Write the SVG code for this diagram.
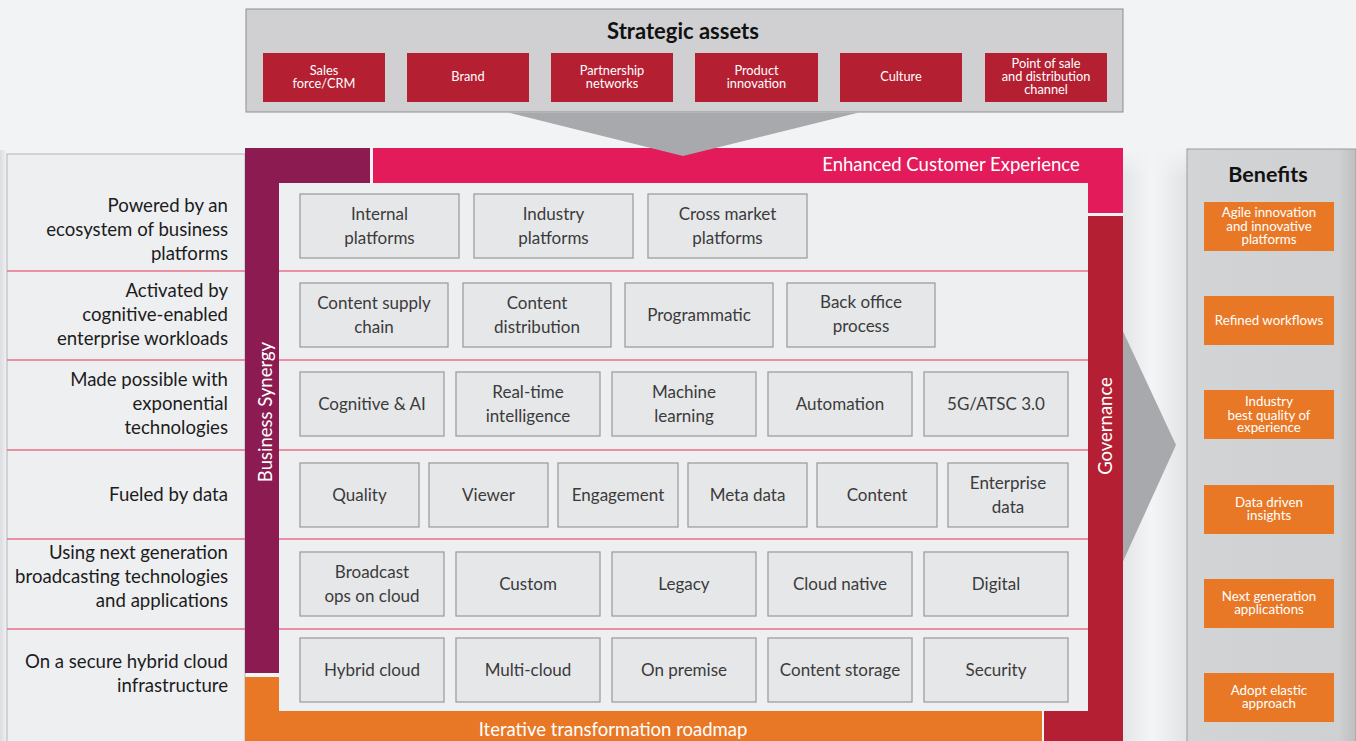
<svg xmlns="http://www.w3.org/2000/svg" width="1356" height="741" viewBox="0 0 1356 741">
  <defs>
    <style>
      text { font-family: Lato, "Open Sans", "Liberation Sans", sans-serif; }
      .bx { fill: #e6e7e9; stroke: #9d9ea0; stroke-width: 1.3; }
      .bt { font-size: 17px; fill: #3b3b3b; text-anchor: middle; }
      .lbl { font-size: 18.6px; fill: #1c1c1c; text-anchor: end; }
      .asset { fill: #b51f32; }
      .at { font-size: 12.8px; fill: #ffffff; text-anchor: middle; }
      .ben { fill: #e97826; }
      .btx { font-size: 13.3px; fill: #ffffff; text-anchor: middle; }
      .sep { stroke: #e8718b; stroke-width: 1.5; }
      .band { font-size: 18.5px; fill: #ffffff; }
      .title { font-weight: bold; fill: #111111; text-anchor: middle; }
    </style>
    <linearGradient id="curl" x1="0" y1="0" x2="1" y2="0">
      <stop offset="0" stop-color="#e4e5e7"/>
      <stop offset="0.45" stop-color="#f4f5f7"/>
      <stop offset="1" stop-color="#e2e3e5"/>
    </linearGradient>
    <linearGradient id="curlFade" x1="0" y1="0" x2="0" y2="1">
      <stop offset="0" stop-color="#f2f3f5" stop-opacity="1"/>
      <stop offset="1" stop-color="#f2f3f5" stop-opacity="0"/>
    </linearGradient>
    <linearGradient id="benShade" x1="0" y1="0" x2="1" y2="0">
      <stop offset="0" stop-color="#d3d4d6"/>
      <stop offset="0.9" stop-color="#cfd0d2"/>
      <stop offset="1" stop-color="#bdbec0"/>
    </linearGradient>
    <linearGradient id="leftShade" x1="0" y1="0" x2="1" y2="0">
      <stop offset="0" stop-color="#dcdde0"/>
      <stop offset="1" stop-color="#f1f2f4"/>
    </linearGradient>
  </defs>

  <!-- page -->
  <rect x="0" y="0" width="1356" height="741" fill="#f2f3f5"/>
  <rect x="0" y="150" width="7" height="591" fill="url(#leftShade)"/>
  <rect x="1123" y="148" width="64" height="593" fill="url(#curl)"/>
  <rect x="1123" y="148" width="64" height="30" fill="url(#curlFade)"/>

  <!-- connectors: arrow from the frame toward the benefits -->
  <g id="connectors">
    <polygon points="1100,282 1176,445 1100,612" fill="#a7a9ac"/>
  </g>

  <!-- row labels on the left -->
  <g id="row-labels">
    <rect x="7" y="154" width="238" height="600" fill="#eeeff1" stroke="#b4b5b7" stroke-width="1"/>
    <line class="sep" x1="7" y1="271" x2="245" y2="271"/>
    <line class="sep" x1="7" y1="360" x2="245" y2="360"/>
    <line class="sep" x1="7" y1="450" x2="245" y2="450"/>
    <line class="sep" x1="7" y1="539" x2="245" y2="539"/>
    <line class="sep" x1="7" y1="629" x2="245" y2="629"/>
    <text class="lbl"><tspan x="228" y="212">Powered by an</tspan><tspan x="228" y="236">ecosystem of business</tspan><tspan x="228" y="260">platforms</tspan></text>
    <text class="lbl"><tspan x="228" y="297">Activated by</tspan><tspan x="228" y="321">cognitive-enabled</tspan><tspan x="228" y="345">enterprise workloads</tspan></text>
    <text class="lbl"><tspan x="228" y="386">Made possible with</tspan><tspan x="228" y="410">exponential</tspan><tspan x="228" y="434">technologies</tspan></text>
    <text class="lbl" x="228" y="501">Fueled by data</text>
    <text class="lbl"><tspan x="228" y="559">Using next generation</tspan><tspan x="228" y="583">broadcasting technologies</tspan><tspan x="228" y="607">and applications</tspan></text>
    <text class="lbl"><tspan x="228" y="668">On a secure hybrid cloud</tspan><tspan x="228" y="692">infrastructure</tspan></text>
  </g>

  <!-- frame bands -->
  <g id="business-synergy">
    <rect x="245" y="148" width="125" height="35" fill="#8b1b51"/>
    <rect x="245" y="148" width="34" height="525" fill="#8b1b51"/>
    <text class="band" transform="translate(272,412) rotate(-90)" text-anchor="middle">Business Synergy</text>
  </g>
  <g id="enhanced-customer-experience">
    <rect x="373" y="148" width="750" height="35" fill="#e31b5b"/>
    <rect x="1088" y="148" width="35" height="65" fill="#e31b5b"/>
    <text class="band" x="951" y="171" text-anchor="middle">Enhanced Customer Experience</text>
  </g>
  <g id="governance">
    <rect x="1088" y="216" width="35" height="525" fill="#b41f33"/>
    <rect x="1044" y="711" width="79" height="30" fill="#b41f33"/>
    <text class="band" transform="translate(1112,426) rotate(-90)" text-anchor="middle">Governance</text>
  </g>
  <g id="iterative-transformation-roadmap">
    <rect x="245" y="677" width="34" height="64" fill="#e87826"/>
    <rect x="245" y="711" width="797" height="30" fill="#e87826"/>
    <text class="band" x="613" y="736" text-anchor="middle">Iterative transformation roadmap</text>
  </g>

  <!-- inner stack -->
  <g id="stack">
    <rect x="279" y="183" width="809" height="528" fill="#eeeff1"/>
    <line class="sep" x1="279" y1="271" x2="1088" y2="271"/>
    <line class="sep" x1="279" y1="360" x2="1088" y2="360"/>
    <line class="sep" x1="279" y1="450" x2="1088" y2="450"/>
    <line class="sep" x1="279" y1="539" x2="1088" y2="539"/>
    <line class="sep" x1="279" y1="629" x2="1088" y2="629"/>
  </g>

  <!-- row 1: platforms -->
  <g id="internal-platforms"><rect class="bx" x="300" y="194" width="159" height="64"/><text class="bt"><tspan x="379.5" y="220">Internal</tspan><tspan x="379.5" y="244">platforms</tspan></text></g>
  <g id="industry-platforms"><rect class="bx" x="474" y="194" width="159" height="64"/><text class="bt"><tspan x="553.5" y="220">Industry</tspan><tspan x="553.5" y="244">platforms</tspan></text></g>
  <g id="cross-market-platforms"><rect class="bx" x="648" y="194" width="159" height="64"/><text class="bt"><tspan x="727.5" y="220">Cross market</tspan><tspan x="727.5" y="244">platforms</tspan></text></g>

  <!-- row 2: workloads -->
  <g id="content-supply-chain"><rect class="bx" x="300" y="283" width="148" height="64"/><text class="bt"><tspan x="374" y="309">Content supply</tspan><tspan x="374" y="333">chain</tspan></text></g>
  <g id="content-distribution"><rect class="bx" x="463" y="283" width="148" height="64"/><text class="bt"><tspan x="537" y="309">Content</tspan><tspan x="537" y="333">distribution</tspan></text></g>
  <g id="programmatic"><rect class="bx" x="625" y="283" width="148" height="64"/><text class="bt" x="699" y="321">Programmatic</text></g>
  <g id="back-office-process"><rect class="bx" x="787" y="283" width="148" height="64"/><text class="bt"><tspan x="861" y="308">Back office</tspan><tspan x="861" y="332">process</tspan></text></g>

  <!-- row 3: technologies -->
  <g id="cognitive-ai"><rect class="bx" x="300" y="372" width="144" height="64"/><text class="bt" x="372" y="410">Cognitive &amp; AI</text></g>
  <g id="real-time-intelligence"><rect class="bx" x="456" y="372" width="144" height="64"/><text class="bt"><tspan x="528" y="398">Real-time</tspan><tspan x="528" y="422">intelligence</tspan></text></g>
  <g id="machine-learning"><rect class="bx" x="612" y="372" width="144" height="64"/><text class="bt"><tspan x="684" y="398">Machine</tspan><tspan x="684" y="422">learning</tspan></text></g>
  <g id="automation"><rect class="bx" x="768" y="372" width="144" height="64"/><text class="bt" x="840" y="410">Automation</text></g>
  <g id="atsc"><rect class="bx" x="924" y="372" width="144" height="64"/><text class="bt" x="996" y="410">5G/ATSC 3.0</text></g>

  <!-- row 4: data -->
  <g id="quality"><rect class="bx" x="300" y="463" width="119" height="64"/><text class="bt" x="359.5" y="501">Quality</text></g>
  <g id="viewer"><rect class="bx" x="429" y="463" width="119" height="64"/><text class="bt" x="488.5" y="501">Viewer</text></g>
  <g id="engagement"><rect class="bx" x="558" y="463" width="120" height="64"/><text class="bt" x="618" y="501">Engagement</text></g>
  <g id="meta-data"><rect class="bx" x="688" y="463" width="119" height="64"/><text class="bt" x="747.5" y="501">Meta data</text></g>
  <g id="content"><rect class="bx" x="817" y="463" width="120" height="64"/><text class="bt" x="877" y="501">Content</text></g>
  <g id="enterprise-data"><rect class="bx" x="948" y="463" width="120" height="64"/><text class="bt"><tspan x="1008" y="489">Enterprise</tspan><tspan x="1008" y="513">data</tspan></text></g>

  <!-- row 5: applications -->
  <g id="broadcast-ops"><rect class="bx" x="300" y="552" width="144" height="64"/><text class="bt"><tspan x="372" y="578">Broadcast</tspan><tspan x="372" y="602">ops on cloud</tspan></text></g>
  <g id="custom"><rect class="bx" x="456" y="552" width="144" height="64"/><text class="bt" x="528" y="590">Custom</text></g>
  <g id="legacy"><rect class="bx" x="612" y="552" width="144" height="64"/><text class="bt" x="684" y="590">Legacy</text></g>
  <g id="cloud-native"><rect class="bx" x="768" y="552" width="144" height="64"/><text class="bt" x="840" y="590">Cloud native</text></g>
  <g id="digital"><rect class="bx" x="924" y="552" width="144" height="64"/><text class="bt" x="996" y="590">Digital</text></g>

  <!-- row 6: infrastructure -->
  <g id="hybrid-cloud"><rect class="bx" x="300" y="638" width="144" height="64"/><text class="bt" x="372" y="676">Hybrid cloud</text></g>
  <g id="multi-cloud"><rect class="bx" x="456" y="638" width="144" height="64"/><text class="bt" x="528" y="676">Multi-cloud</text></g>
  <g id="on-premise"><rect class="bx" x="612" y="638" width="144" height="64"/><text class="bt" x="684" y="676">On premise</text></g>
  <g id="content-storage"><rect class="bx" x="768" y="638" width="144" height="64"/><text class="bt" x="840" y="676">Content storage</text></g>
  <g id="security"><rect class="bx" x="924" y="638" width="144" height="64"/><text class="bt" x="996" y="676">Security</text></g>

  <!-- strategic assets panel -->
  <g id="strategic-assets">
    <rect x="246" y="9" width="877" height="103" fill="#d0d0d2" stroke="#8d8e90" stroke-width="1"/>
    <text class="title" x="683" y="39" font-size="22">Strategic assets</text>
    <rect class="asset" x="263" y="53" width="122" height="49"/>
    <text class="at"><tspan x="324" y="75">Sales</tspan><tspan x="324" y="88">force/CRM</tspan></text>
    <rect class="asset" x="407" y="53" width="122" height="49"/>
    <text class="at" x="468" y="81">Brand</text>
    <rect class="asset" x="551" y="53" width="122" height="49"/>
    <text class="at"><tspan x="612" y="75">Partnership</tspan><tspan x="612" y="88">networks</tspan></text>
    <rect class="asset" x="695" y="53" width="123" height="49"/>
    <text class="at"><tspan x="756.5" y="75">Product</tspan><tspan x="756.5" y="88">innovation</tspan></text>
    <rect class="asset" x="840" y="53" width="122" height="49"/>
    <text class="at" x="901" y="81">Culture</text>
    <rect class="asset" x="985" y="53" width="122" height="49"/>
    <text class="at"><tspan x="1046" y="68">Point of sale</tspan><tspan x="1046" y="81">and distribution</tspan><tspan x="1046" y="94">channel</tspan></text>
  </g>
  <!-- funnel from the assets panel into the frame -->
  <g id="assets-funnel">
    <polygon points="508,112.5 859,112.5 683,156" fill="#a7a9ac"/>
  </g>

  <!-- benefits panel -->
  <g id="benefits">
    <rect x="1187" y="149" width="169" height="600" fill="url(#benShade)" stroke="#9a9b9d" stroke-width="1"/>
    <text class="title" x="1268" y="182" font-size="21.5">Benefits</text>
    <rect class="ben" x="1204" y="202" width="130" height="49"/>
    <text class="btx"><tspan x="1269" y="217">Agile innovation</tspan><tspan x="1269" y="230.5">and innovative</tspan><tspan x="1269" y="244">platforms</tspan></text>
    <rect class="ben" x="1204" y="296" width="130" height="49"/>
    <text class="btx" x="1269" y="325">Refined workflows</text>
    <rect class="ben" x="1204" y="390" width="130" height="49"/>
    <text class="btx"><tspan x="1269" y="406">Industry</tspan><tspan x="1269" y="419.5">best quality of</tspan><tspan x="1269" y="432">experience</tspan></text>
    <rect class="ben" x="1204" y="485" width="130" height="49"/>
    <text class="btx"><tspan x="1269" y="507">Data driven</tspan><tspan x="1269" y="520">insights</tspan></text>
    <rect class="ben" x="1204" y="579" width="130" height="49"/>
    <text class="btx"><tspan x="1269" y="601">Next generation</tspan><tspan x="1269" y="614">applications</tspan></text>
    <rect class="ben" x="1204" y="673" width="130" height="49"/>
    <text class="btx"><tspan x="1269" y="695">Adopt elastic</tspan><tspan x="1269" y="708">approach</tspan></text>
  </g>
</svg>
